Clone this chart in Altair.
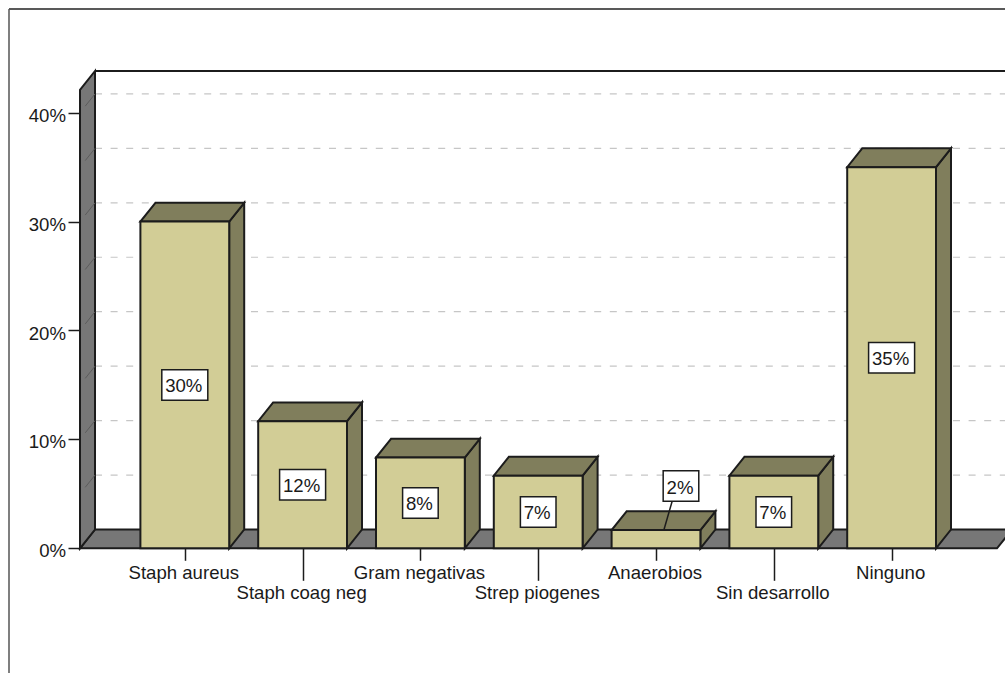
import json
import altair as alt
import pandas as pd

# Isolate shares per culture result, as fractions of the 60 cases
categories = ["Staph aureus", "Staph coag neg", "Gram negativas", "Strep piogenes",
              "Anaerobios", "Sin desarrollo", "Ninguno"]
shares = [0.30, 0.1167, 0.0833, 0.0667, 0.0167, 0.0667, 0.35]
y_ticks = [0.0, 0.1, 0.2, 0.3, 0.4]
grid_levels = [0.05, 0.10, 0.15, 0.20, 0.25, 0.30, 0.35, 0.40]

FRONT = "#d2cd96"
SHADE = "#807e5c"
WALL = "#777777"
EDGE = "#1c1c1c"
TEXT = "#1a1a1a"
FONT = "Liberation Sans"
FONT_SIZE = 18.6

# Scale geometry: one x unit is one category step, y is in fractions
PX_X, PX_Y = 117.8, 1089.0
X0, Y0 = 184.8, 548.3
W, H = 1005, 673
SLANT_X, SLANT_Y = 15 / PX_X, 18.8 / PX_Y
HALF_BAR = 44.4 / PX_X
WALL_FRONT = (80 - X0) / PX_X
FLOOR_END = (997 - X0) / PX_X
WALL_TOP = (529.5 - 71) / PX_Y

x_scale = alt.Scale(domain=[(0 - X0) / PX_X, (W - X0) / PX_X], nice=False, zero=False)
y_scale = alt.Scale(domain=[(Y0 - H) / PX_Y, Y0 / PX_Y], nice=False, zero=False)

names = json.dumps(categories)
x_axis = alt.Axis(
    values=list(range(len(categories))), title=None, grid=False, domain=False,
    orient="bottom", offset=-(H - Y0), labelExpr=f"{names}[datum.value]",
    labelOverlap=False, labelFlush=False, labelFont=FONT, labelFontSize=FONT_SIZE, labelColor=TEXT,
    labelOffset=-1.5, labelPadding=3,
    tickColor=EDGE, tickWidth=1.5,
    tickSize={"condition": {"test": "datum.value % 2 == 1", "value": 32}, "value": 12},
)
y_axis = alt.Axis(
    values=y_ticks, title=None, grid=False, domain=False, format=".0%", orient="left",
    offset=-80, labelFont=FONT, labelFontSize=FONT_SIZE, labelColor=TEXT, labelPadding=2.5,
    labelOffset=2.5, tickColor=EDGE, tickWidth=1.5, tickSize=12,
)


def X(field="x"):
    return alt.X(f"{field}:Q", scale=x_scale, axis=x_axis)


def Y(field="y"):
    return alt.Y(f"{field}:Q", scale=y_scale, axis=y_axis)


# Frame around the page
frame_top = alt.Chart(pd.DataFrame({"k": [0]})).mark_rule(color="#222222", strokeWidth=1.5).encode(
    x=alt.value(9), x2=alt.value(W), y=alt.value(9))
frame_left = alt.Chart(pd.DataFrame({"k": [0]})).mark_rule(color="#555555", strokeWidth=1.5).encode(
    y=alt.value(9), y2=alt.value(H), x=alt.value(9))

# Back wall grid
grid_df = pd.DataFrame({"y": [g + SLANT_Y for g in grid_levels]})
grid_df["x"], grid_df["x2"] = WALL_FRONT + SLANT_X, (W - X0) / PX_X
grid = alt.Chart(grid_df).mark_rule(color="#c6c6c6", strokeWidth=1.2, strokeDash=[7, 8.6]).encode(
    x=X(), x2="x2:Q", y=Y())

back_top = alt.Chart(pd.DataFrame({"x": [WALL_FRONT + SLANT_X], "x2": [(W - X0) / PX_X],
                                   "y": [WALL_TOP + SLANT_Y]})).mark_rule(color=EDGE, strokeWidth=2).encode(
    x=X(), x2="x2:Q", y=Y())

# Floor and side wall
floor = alt.Chart(pd.DataFrame({
    "y": [0, SLANT_Y],
    "x": [WALL_FRONT, WALL_FRONT + SLANT_X],
    "x2": [FLOOR_END, FLOOR_END + SLANT_X],
})).mark_area(color=WALL, stroke=EDGE, strokeWidth=2, orient="horizontal", clip=True).encode(
    y=Y(), x=X(), x2="x2:Q")

wall = alt.Chart(pd.DataFrame({
    "x": [WALL_FRONT, WALL_FRONT + SLANT_X],
    "y": [0, SLANT_Y],
    "y2": [WALL_TOP, WALL_TOP + SLANT_Y],
})).mark_area(color=WALL, stroke=EDGE, strokeWidth=2, orient="vertical").encode(
    x=X(), y=Y(), y2="y2:Q")

# Faint grid continuation across the side wall
wall_rows = []
for g in grid_levels:
    wall_rows.append({"g": g, "x": WALL_FRONT + SLANT_X * 0.35, "y": g + SLANT_Y * 0.35})
    wall_rows.append({"g": g, "x": WALL_FRONT + SLANT_X, "y": g + SLANT_Y})
wall_grid = alt.Chart(pd.DataFrame(wall_rows)).mark_line(color="#5c5c5c", strokeWidth=1).encode(
    x=X(), y=Y(), detail="g:N")

# Box faces for each bar
bar_rows = pd.DataFrame({"pos": range(len(categories)), "share": shares})
side_rows, top_rows = [], []
for pos, share in zip(bar_rows["pos"], bar_rows["share"]):
    right = pos + HALF_BAR
    side_rows += [
        {"pos": pos, "x": right, "y": 0, "y2": share},
        {"pos": pos, "x": right + SLANT_X, "y": SLANT_Y, "y2": share + SLANT_Y},
    ]
    top_rows += [
        {"pos": pos, "y": share, "x": pos - HALF_BAR, "x2": right},
        {"pos": pos, "y": share + SLANT_Y, "x": pos - HALF_BAR + SLANT_X, "x2": right + SLANT_X},
    ]
side = alt.Chart(pd.DataFrame(side_rows)).mark_area(
    color=SHADE, stroke=EDGE, strokeWidth=2, orient="vertical").encode(
    x=X(), y=Y(), y2="y2:Q", detail="pos:N")
top = alt.Chart(pd.DataFrame(top_rows)).mark_area(
    color=SHADE, stroke=EDGE, strokeWidth=2, orient="horizontal").encode(
    y=Y(), x=X(), x2="x2:Q", detail="pos:N")

front_df = bar_rows.assign(x=bar_rows["pos"] - HALF_BAR, x2=bar_rows["pos"] + HALF_BAR, y=0.0)
front = alt.Chart(front_df).mark_rect(color=FRONT, stroke=EDGE, strokeWidth=2).encode(
    x=X(), x2="x2:Q", y=Y(), y2="share:Q")

# Value callouts: centred on the bar, except the short Anaerobios bar
label_df = bar_rows.copy()
label_df["x"] = label_df["pos"].astype(float)
label_df["y"] = label_df["share"] / 2
label_df.loc[4, "x"] = 4.212
label_df.loc[4, "y"] = 0.0572
half_w = [(23 if s >= 0.095 else 17.8) / PX_X for s in shares]
half_h = 15.2 / PX_Y
label_df["bx"] = label_df["x"] - half_w
label_df["bx2"] = label_df["x"] + half_w
label_df["by"] = label_df["y"] - half_h
label_df["by2"] = label_df["y"] + half_h

leader = alt.Chart(pd.DataFrame({"x": [4.068, 4.136], "y": [SLANT_Y, 0.0428]})).mark_line(
    color=EDGE, strokeWidth=1.5).encode(x=X(), y=Y())
boxes = alt.Chart(label_df).mark_rect(fill="white", stroke=EDGE, strokeWidth=1.5).encode(
    x=X("bx"), x2="bx2:Q", y=Y("by"), y2="by2:Q")
texts = alt.Chart(label_df).mark_text(
    font=FONT, fontSize=FONT_SIZE, color=TEXT, baseline="middle", dy=1.5, dx=-1
).encode(x=X(), y=Y(), text=alt.Text("share:Q", format=".0%"))

chart = alt.layer(
    grid, back_top, floor, wall, wall_grid, side, top, front, leader, boxes, texts, frame_top, frame_left
).properties(
    width=W, height=H, padding=0, background="white",
    autosize=alt.AutoSizeParams(type="none"),
).configure_view(stroke=None)

chart.save("out.html", embed_options={"renderer": "svg", "actions": False})
